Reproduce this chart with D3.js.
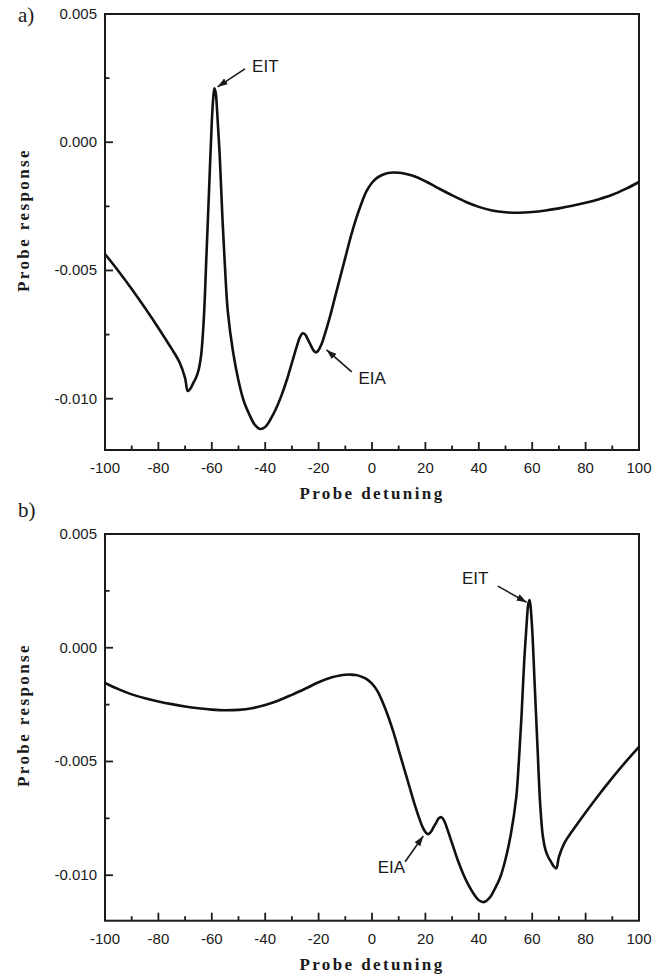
<!doctype html>
<html>
<head>
<meta charset="utf-8"/>
<title>Probe response</title>
<script src="https://d3js.org/d3.v7.min.js"></script>
<style>
body { margin: 0; background: #fff; }
</style>
</head>
<body>
<script>
// panel a) values
var detuningA = [-100,-95,-90,-85,-80,-75,-72,
  -70,-69,-68,-67,-66,-65,-64,-63,-62,-61,-60,-59.4,-59,-58.5,-58,-57,-56,-55,-54,
  -52,-50,-48,-46,-44,-42,-40,-38,-36,-34,-32,-30,-28,-27,-26,
  -25,-24,-23,-22,-21,-20,-19,-18,
  -16,-14,-12,-10,-8,-6,-4,-2,0,2,4,6,8,10,12,
  15,20,25,30,35,40,45,50,55,60,65,70,75,80,85,90,95,100];
var responseA = [-0.00436,-0.00502,-0.00572,-0.00646,-0.00724,-0.00806,-0.0086,
  -0.0092,-0.0097,-0.0096,-0.0094,-0.0092,-0.0089,-0.0083,-0.0069,-0.0044,-0.0018,0.0008,0.0018,0.0021,0.0019,0.0012,-0.0006,-0.0030,-0.0050,-0.0066,
  -0.0082,-0.0093,-0.0101,-0.0106,-0.0110,-0.01118,-0.0111,-0.0108,-0.0104,-0.0099,-0.0093,-0.0086,-0.0079,-0.0076,-0.00745,
  -0.0075,-0.0077,-0.0079,-0.0081,-0.0082,-0.0081,-0.0079,-0.0076,
  -0.0069,-0.0061,-0.0053,-0.0045,-0.0037,-0.0030,-0.0024,-0.0019,-0.00158,-0.00138,-0.00127,-0.0012,-0.00118,-0.00119,-0.00122,
  -0.0013,-0.00152,-0.0018,-0.00207,-0.00232,-0.00252,-0.00266,-0.00273,-0.00275,-0.00272,-0.00266,-0.00258,-0.00248,-0.00236,-0.00222,-0.00205,-0.00182,-0.00155];

// panel b)
var detuningB = [-100,-95,-90,-85,-80,-75,-70,-65,-60,-55,-50,-45,-40,-35,-30,-25,-20,-15,
  -12,-10,-8,-6,-4,-2,0,2,4,6,8,10,12,14,16,
  18,19,20,21,22,23,24,25,
  26,27,28,30,32,34,36,38,40,42,44,46,48,50,52,
  54,55,56,57,58,58.5,59,59.4,60,61,62,63,64,65,66,67,68,69,70,
  72,75,80,85,90,95,100];
var responseB = [-0.00155,-0.00182,-0.00205,-0.00222,-0.00236,-0.00248,-0.00258,-0.00266,-0.00272,-0.00275,-0.00273,-0.00266,-0.00252,-0.00232,-0.00207,-0.0018,-0.00152,-0.0013,
  -0.00122,-0.00119,-0.00118,-0.0012,-0.00127,-0.00138,-0.00158,-0.0019,-0.0024,-0.0030,-0.0037,-0.0045,-0.0053,-0.0061,-0.0069,
  -0.0076,-0.0079,-0.0081,-0.0082,-0.0081,-0.0079,-0.0077,-0.0075,
  -0.00745,-0.0076,-0.0079,-0.0086,-0.0093,-0.0099,-0.0104,-0.0108,-0.0111,-0.01118,-0.0110,-0.0106,-0.0101,-0.0093,-0.0082,
  -0.0066,-0.0050,-0.0030,-0.0006,0.0012,0.0019,0.0021,0.0018,0.0008,-0.0018,-0.0044,-0.0069,-0.0083,-0.0089,-0.0092,-0.0094,-0.0096,-0.0097,-0.0092,
  -0.0086,-0.00806,-0.00724,-0.00646,-0.00572,-0.00502,-0.00436];

var xTicks = [-100,-80,-60,-40,-20,0,20,40,60,80,100];
var xMinor = [-90,-70,-50,-30,-10,10,30,50,70,90];
var yTicks = [0.005,0,-0.005,-0.010];
var yMinor = [0.0025,-0.0025,-0.0075];

// arrows and labels, in data units: text spot, arrow tail, arrow tip
var notesA = [
  {text:"EIT", tx:-44.9, ty:0.00274, anchor:"start", x1:-47.6, y1:0.00286, x2:-57.8, y2:0.00216},
  {text:"EIA", tx:-5.1, ty:-0.00942, anchor:"start", x1:-7.6, y1:-0.00895, x2:-17.0, y2:-0.0081}
];
var notesB = [
  {text:"EIT", tx:43.6, ty:0.00282, anchor:"end", x1:47.1, y1:0.00271, x2:57.9, y2:0.00200},
  {text:"EIA", tx:12.4, ty:-0.0099, anchor:"end", x1:12.4, y1:-0.00941, x2:19.2, y2:-0.00828}
];

var ink = "#1a1a1a";
var sans = "'Liberation Sans', Arial, sans-serif";
var serif = "'Liberation Serif', 'Times New Roman', serif";
var svg = d3.select("body").append("svg")
  .attr("width", 663).attr("height", 977);

svg.append("defs").append("marker")
  .attr("id", "head")
  .attr("markerUnits", "userSpaceOnUse")
  .attr("markerWidth", 10).attr("markerHeight", 7)
  .attr("refX", 10).attr("refY", 3.5)
  .attr("orient", "auto")
  .append("path").attr("d", "M0,0 L10,3.5 L0,7 z").attr("fill", ink);

function hyphen(f) { return function(d) { return f(d).replace("\u2212", "-"); }; }

function drawPanel(top, bottom, xs, ys, notes, label, labelY, titleY, yTitleMid) {
  var x = d3.scaleLinear().domain([-100, 100]).range([105, 639]);
  var y = d3.scaleLinear().domain([-0.012, 0.005]).range([bottom, top]);
  var g = svg.append("g");

  // ticks point inward
  function xTickMarks(vals, len) {
    g.selectAll(null).data(vals).enter().append("line")
      .attr("x1", function(d) { return x(d); }).attr("x2", function(d) { return x(d); })
      .attr("y1", bottom).attr("y2", bottom - len)
      .attr("stroke", ink).attr("stroke-width", 1.8);
  }
  function yTickMarks(vals, len) {
    g.selectAll(null).data(vals).enter().append("line")
      .attr("y1", function(d) { return y(d); }).attr("y2", function(d) { return y(d); })
      .attr("x1", 105).attr("x2", 105 + len)
      .attr("stroke", ink).attr("stroke-width", 1.8);
  }
  xTickMarks(xTicks, 8);
  xTickMarks(xMinor, 4.5);
  yTickMarks(yTicks, 8);
  yTickMarks(yMinor, 4.5);

  var xf = hyphen(d3.format("d"));
  var yf = hyphen(d3.format(".3f"));
  g.selectAll(null).data(xTicks).enter().append("text")
    .attr("x", function(d) { return x(d); }).attr("y", bottom + 23)
    .attr("text-anchor", "middle").attr("fill", ink)
    .style("font-family", sans).style("font-size", "15px")
    .text(xf);
  g.selectAll(null).data(yTicks).enter().append("text")
    .attr("x", 97).attr("y", function(d) { return y(d) + 5; })
    .attr("text-anchor", "end").attr("fill", ink)
    .style("font-family", sans).style("font-size", "15px")
    .text(yf);

  g.append("rect")
    .attr("x", 105).attr("y", top).attr("width", 534).attr("height", bottom - top)
    .attr("fill", "none").attr("stroke", ink).attr("stroke-width", 2);

  var line = d3.line()
    .x(function(d, i) { return x(xs[i]); })
    .y(function(d, i) { return y(ys[i]); })
    .curve(d3.curveCatmullRom.alpha(0.5));
  g.append("path").attr("d", line(xs))
    .attr("fill", "none").attr("stroke", "#111").attr("stroke-width", 2.6)
    .attr("stroke-linejoin", "round");

  notes.forEach(function(n) {
    g.append("line")
      .attr("x1", x(n.x1)).attr("y1", y(n.y1))
      .attr("x2", x(n.x2)).attr("y2", y(n.y2))
      .attr("stroke", ink).attr("stroke-width", 1.6)
      .attr("marker-end", "url(#head)");
    g.append("text").attr("x", x(n.tx)).attr("y", y(n.ty))
      .attr("text-anchor", n.anchor).attr("fill", ink)
      .style("font-family", sans).style("font-size", "17px")
      .text(n.text);
  });

  g.append("text").attr("x", 372).attr("y", titleY)
    .attr("text-anchor", "middle").attr("fill", ink)
    .style("font-family", serif)
    .style("font-size", "17px").style("font-weight", "bold").style("letter-spacing", "2.4px")
    .text("Probe detuning");

  g.append("text")
    .attr("transform", "translate(29," + yTitleMid + ") rotate(-90)")
    .attr("text-anchor", "middle").attr("fill", ink)
    .style("font-family", serif)
    .style("font-size", "17px").style("font-weight", "bold").style("letter-spacing", "2.4px")
    .text("Probe response");

  g.append("text").attr("x", 18).attr("y", labelY).attr("fill", ink)
    .style("font-family", serif)
    .style("font-size", "21px")
    .text(label);
}

drawPanel(14, 450, detuningA, responseA, notesA, "a)", 22, 499, 220);
drawPanel(534, 920.7, detuningB, responseB, notesB, "b)", 517, 970, 715);
</script>
</body>
</html>
